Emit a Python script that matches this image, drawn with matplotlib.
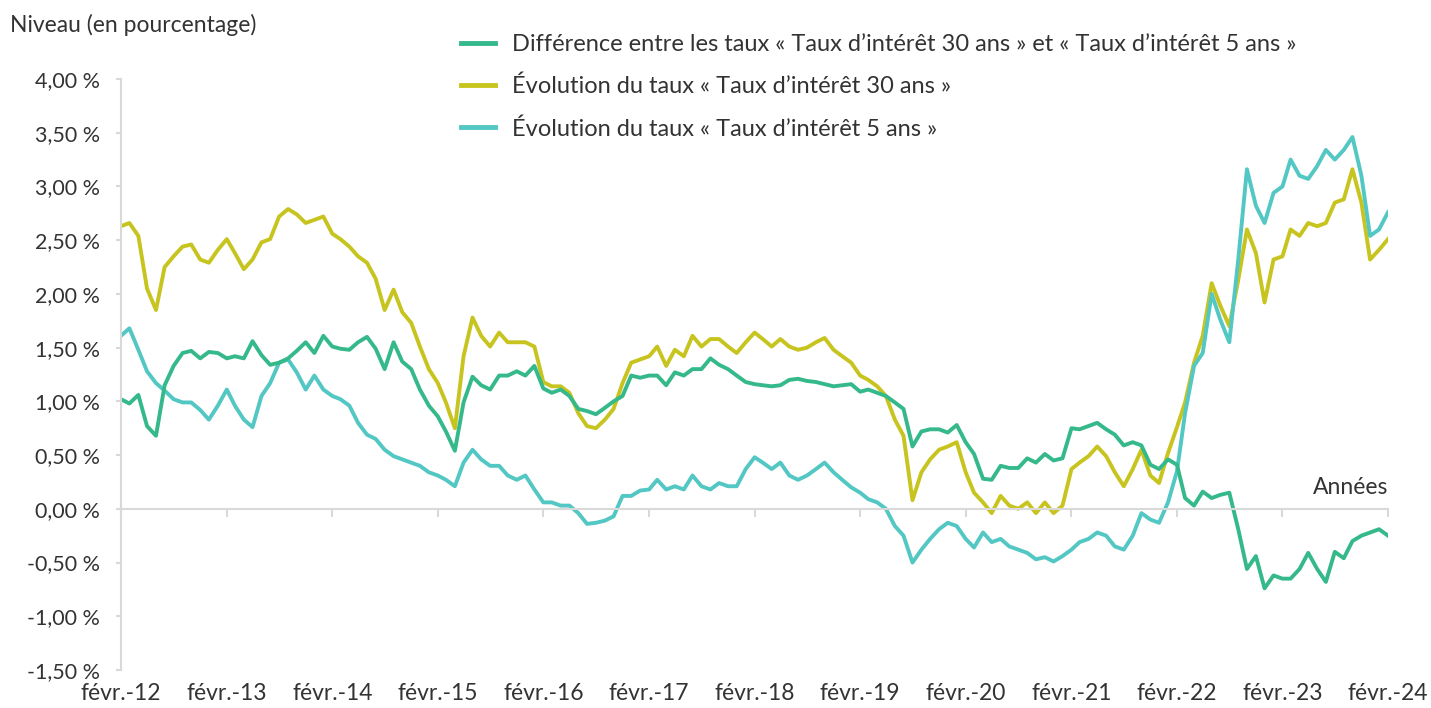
import numpy as np
import pandas as pd
import matplotlib
matplotlib.use("Agg")
import matplotlib.pyplot as plt
import matplotlib.dates as mdates
import matplotlib.transforms as mtransforms

# monthly readings, févr. 2012 -> févr. 2024 (in %)
taux_30 = [
    2.63, 2.66, 2.54, 2.05, 1.85, 2.25, 2.35, 2.44, 2.46, 2.32, 2.29, 2.41,
    2.51, 2.38, 2.23, 2.32, 2.48, 2.51, 2.72, 2.79, 2.74, 2.66, 2.69, 2.72,
    2.56, 2.51, 2.44, 2.35, 2.29, 2.14, 1.85, 2.04, 1.83, 1.73, 1.51, 1.30,
    1.17, 0.99, 0.75, 1.42, 1.78, 1.61, 1.51, 1.64, 1.55, 1.55, 1.55, 1.51,
    1.18, 1.14, 1.14, 1.08, 0.89, 0.77, 0.75, 0.83, 0.93, 1.17, 1.36, 1.39,
    1.42, 1.51, 1.33, 1.48, 1.42, 1.61, 1.51, 1.58, 1.58, 1.51, 1.45, 1.55,
    1.64, 1.58, 1.51, 1.58, 1.51, 1.48, 1.50, 1.55, 1.59, 1.48, 1.42, 1.36,
    1.24, 1.20, 1.14, 1.05, 0.83, 0.68, 0.08, 0.34, 0.46, 0.55, 0.58, 0.62,
    0.34, 0.15, 0.06, -0.04, 0.12, 0.03, 0.00, 0.06, -0.04, 0.06, -0.04, 0.03,
    0.37, 0.43, 0.49, 0.58, 0.49, 0.34, 0.21, 0.37, 0.55, 0.31, 0.24, 0.52,
    0.76, 0.99, 1.36, 1.61, 2.10, 1.89, 1.70, 2.13, 2.60, 2.38, 1.92, 2.32,
    2.35, 2.60, 2.54, 2.66, 2.63, 2.66, 2.85, 2.88, 3.16, 2.85, 2.32, 2.41,
    2.51,
]
taux_5 = [
    1.61, 1.68, 1.48, 1.28, 1.17, 1.10, 1.02, 0.99, 0.99, 0.92, 0.83, 0.96,
    1.11, 0.96, 0.83, 0.76, 1.05, 1.17, 1.36, 1.39, 1.27, 1.11, 1.24, 1.11,
    1.05, 1.02, 0.96, 0.80, 0.69, 0.65, 0.55, 0.49, 0.46, 0.43, 0.40, 0.34,
    0.31, 0.27, 0.21, 0.43, 0.55, 0.46, 0.40, 0.40, 0.31, 0.27, 0.31, 0.18,
    0.06, 0.06, 0.03, 0.03, -0.04, -0.14, -0.13, -0.11, -0.07, 0.12, 0.12, 0.17,
    0.18, 0.27, 0.18, 0.21, 0.18, 0.31, 0.21, 0.18, 0.24, 0.21, 0.21, 0.37,
    0.48, 0.43, 0.37, 0.43, 0.31, 0.27, 0.31, 0.37, 0.43, 0.34, 0.27, 0.20,
    0.15, 0.09, 0.06, 0.00, -0.16, -0.25, -0.50, -0.38, -0.28, -0.19, -0.13, -0.16,
    -0.28, -0.36, -0.22, -0.31, -0.28, -0.35, -0.38, -0.41, -0.47, -0.45, -0.49, -0.44,
    -0.38, -0.31, -0.28, -0.22, -0.25, -0.35, -0.38, -0.25, -0.04, -0.10, -0.13, 0.06,
    0.35, 0.89, 1.33, 1.45, 2.00, 1.76, 1.55, 2.32, 3.16, 2.82, 2.66, 2.94,
    3.00, 3.25, 3.10, 3.07, 3.19, 3.34, 3.25, 3.34, 3.46, 3.10, 2.54, 2.60,
    2.76,
]
dates = pd.date_range("2012-02-01", periods=len(taux_30), freq="MS")
ecart = np.array(taux_30) - np.array(taux_5)

tick_dates = pd.date_range("2012-02-01", "2024-02-01", freq="12MS")
tick_labels = ["févr.-%02d" % (d.year % 100) for d in tick_dates]
y_ticks = [4.0, 3.5, 3.0, 2.5, 2.0, 1.5, 1.0, 0.5, 0.0, -0.5, -1.0, -1.5]

labels = [
    "Différence entre les taux « Taux d’intérêt 30 ans » et « Taux d’intérêt 5 ans »",
    "Évolution du taux « Taux d’intérêt 30 ans »",
    "Évolution du taux « Taux d’intérêt 5 ans »",
]
colors = ["#35b98b", "#c8c41f", "#53c7c3"]

plt.rcParams["font.family"] = ["Lato", "DejaVu Sans"]
text_color = "#333333"
grid_color = "#d9d9d9"
fs = 16.5

fig = plt.figure(figsize=(14.31, 7.08), dpi=100)
ax = fig.add_axes([121 / 1431, 1 - 670 / 708, (1388 - 121) / 1431, (670 - 79) / 708])

x = mdates.date2num(dates)
l30, = ax.plot(x, taux_30, color=colors[1], lw=2.8, solid_joinstyle="round")
l5, = ax.plot(x, taux_5, color=colors[2], lw=2.8, solid_joinstyle="round")
ld, = ax.plot(x, ecart, color=colors[0], lw=2.8, solid_joinstyle="round")

xt = mdates.date2num(tick_dates)
ax.set_xlim(xt[0], xt[-1])
ax.set_ylim(-1.5, 4.0)

for s in ["top", "right"]:
    ax.spines[s].set_visible(False)
ax.spines["left"].set_color(grid_color)
ax.spines["left"].set_linewidth(1.5)
ax.spines["bottom"].set_position(("data", 0))
ax.spines["bottom"].set_color(grid_color)
ax.spines["bottom"].set_linewidth(1.5)

ax.set_yticks(y_ticks)
ax.set_yticklabels([("%.2f %%" % v).replace(".", ",") for v in y_ticks])
ax.tick_params(axis="y", length=3.5, width=1.5, color=grid_color, pad=11.5,
               labelsize=15.5, labelcolor=text_color)
ax.set_xticks(xt)
ax.tick_params(axis="x", length=6, width=1.5, color=grid_color, labelbottom=False)

sec = ax.secondary_xaxis("bottom")
sec.set_xticks(xt, tick_labels)
sec.spines["bottom"].set_visible(False)
sec.tick_params(length=0, pad=9, labelsize=fs, labelcolor=text_color)

trans = mtransforms.blended_transform_factory(ax.transAxes, ax.transData)
ax.text(1.0, 0.1, "Années", transform=trans, ha="right", va="bottom",
        fontsize=fs, color=text_color)
fig.text(10 / 1431, 1 - 25 / 708, "Niveau (en pourcentage)", ha="left", va="center",
         fontsize=fs, color=text_color)

leg = fig.legend([ld, l30, l5], labels, loc="upper left",
                 bbox_to_anchor=(461 / 1431, 1 - 34 / 708), frameon=False,
                 fontsize=17, handlelength=1.45, handletextpad=0.7,
                 labelspacing=0.88, borderaxespad=0, borderpad=0)
for t in leg.get_texts():
    t.set_color(text_color)
for h in leg.legend_handles:
    h.set_linewidth(3.5)

fig.savefig("out.png", dpi=100)
